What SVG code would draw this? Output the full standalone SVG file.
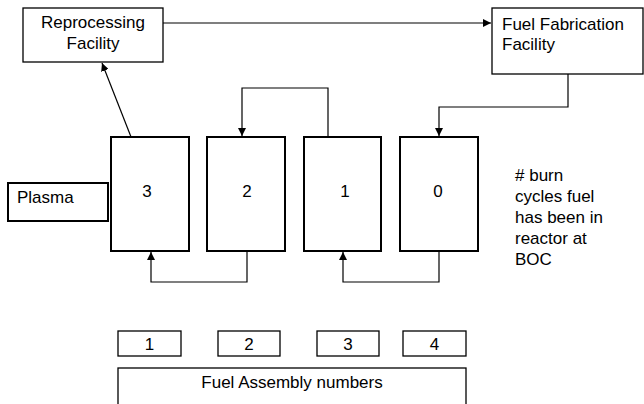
<svg xmlns="http://www.w3.org/2000/svg" width="644" height="404" viewBox="0 0 644 404">
  <defs>
    <marker id="arrow" viewBox="0 0 10 10" refX="10" refY="5" markerWidth="8" markerHeight="8" markerUnits="userSpaceOnUse" orient="auto">
      <path d="M0,0 L10,5 L0,10 z" fill="#000"/>
    </marker>
  </defs>
  <style>
    text { font-family: "Liberation Sans", Arial, sans-serif; font-size: 17px; fill: #000; }
    .box { fill: #fff; stroke: #000; stroke-width: 1.3; }
    .cyc { fill: #fff; stroke: #000; stroke-width: 2; }
    .conn { fill: none; stroke: #000; stroke-width: 1.2; marker-end: url(#arrow); }
    .mid { text-anchor: middle; }
  </style>
  <rect width="644" height="404" fill="#fff"/>

  <g id="connectors">
    <path class="conn" d="M163,23 H491"/>
    <path class="conn" d="M133,142 L102,63"/>
    <path class="conn" d="M328,137 V88 H242 V136"/>
    <path class="conn" d="M568,74 V107 H439 V136"/>
    <path class="conn" d="M247,251 V282 H151 V252"/>
    <path class="conn" d="M439,251 V282 H343 V252"/>
  </g>

  <g id="reprocessing">
    <rect class="box" x="23" y="8" width="140" height="54"/>
    <text class="mid" x="93" y="28">Reprocessing</text>
    <text class="mid" x="93" y="49">Facility</text>
  </g>

  <g id="fabrication">
    <rect class="box" x="492" y="8" width="151" height="66"/>
    <text x="502" y="30">Fuel Fabrication</text>
    <text x="502" y="50">Facility</text>
  </g>

  <g id="plasma">
    <rect class="cyc" x="8" y="183" width="100" height="38"/>
    <text x="17" y="203">Plasma</text>
  </g>

  <g id="cycle3">
    <rect class="cyc" x="111" y="137" width="78" height="114"/>
    <text class="mid" x="147" y="197">3</text>
  </g>
  <g id="cycle2">
    <rect class="cyc" x="207" y="137" width="78" height="114"/>
    <text class="mid" x="247" y="197">2</text>
  </g>
  <g id="cycle1">
    <rect class="cyc" x="304" y="137" width="77" height="114"/>
    <text class="mid" x="345" y="197">1</text>
  </g>
  <g id="cycle0">
    <rect class="cyc" x="400" y="137" width="78" height="114"/>
    <text class="mid" x="438" y="197">0</text>
  </g>

  <g id="legend">
    <text x="515" y="181">
      <tspan x="515">&#35; burn</tspan>
      <tspan x="515" dy="21">cycles fuel</tspan>
      <tspan x="515" dy="21">has been in</tspan>
      <tspan x="515" dy="21">reactor at</tspan>
      <tspan x="515" dy="21">BOC</tspan>
    </text>
  </g>

  <g id="assembly1">
    <rect class="box" x="118" y="331" width="63" height="25"/>
    <text class="mid" x="149.5" y="350">1</text>
  </g>
  <g id="assembly2">
    <rect class="box" x="218" y="331" width="62" height="25"/>
    <text class="mid" x="249" y="350">2</text>
  </g>
  <g id="assembly3">
    <rect class="box" x="317" y="331" width="62" height="25"/>
    <text class="mid" x="348" y="350">3</text>
  </g>
  <g id="assembly4">
    <rect class="box" x="403" y="331" width="63" height="25"/>
    <text class="mid" x="434.5" y="350">4</text>
  </g>

  <g id="assembly-label">
    <rect class="box" x="118" y="368" width="348" height="40"/>
    <text class="mid" x="292" y="388">Fuel Assembly numbers</text>
  </g>
</svg>
